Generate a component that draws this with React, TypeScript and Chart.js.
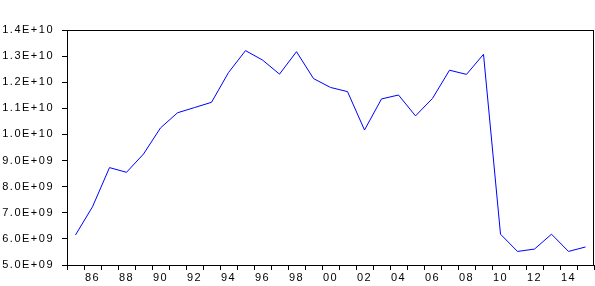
import React, { useEffect, useRef } from "react";
import { Chart, registerables } from "chart.js";

Chart.register(...registerables);

const years: number[] = [
  1985, 1986, 1987, 1988, 1989, 1990, 1991, 1992, 1993, 1994, 1995, 1996,
  1997, 1998, 1999, 2000, 2001, 2002, 2003, 2004, 2005, 2006, 2007, 2008,
  2009, 2010, 2011, 2012, 2013, 2014, 2015,
];

// values in units of 1E+09
const valuesBillions: number[] = [
  6.15, 7.23, 8.73, 8.55, 9.25, 10.25, 10.83, 11.03, 11.23, 12.37, 13.21, 12.85,
  12.31, 13.17, 12.14, 11.8, 11.64, 10.17, 11.36, 11.51, 10.71, 11.38, 12.46, 12.3,
  13.07, 6.18, 5.52, 5.61, 6.18, 5.52, 5.69,
];

const yMin = 5.0e9;
const yMax = 1.4e10;
const yStep = 1.0e9;

function fmtE(v: number): string {
  const s = v.toExponential(1).toUpperCase(); // e.g. 9.0E+9
  const m = s.match(/^(-?[\d.]+)E([+-])(\d+)$/);
  if (!m) return s;
  const exp = m[3].length < 2 ? "0" + m[3] : m[3];
  return `${m[1]}E${m[2]}${exp}`;
}

const framePlugin = {
  id: "frame",
  beforeDraw(chart: any) {
    const ctx = chart.ctx;
    try {
      ctx.letterSpacing = "1.5px";
    } catch (e) {}
    ctx.save();
    ctx.fillStyle = "#ffffff";
    ctx.fillRect(0, 0, chart.width, chart.height);
    ctx.restore();
  },
  afterDraw(chart: any) {
    const { left, top, right, bottom } = chart.chartArea;
    const ctx = chart.ctx;
    ctx.save();
    ctx.strokeStyle = "#000000";
    ctx.lineWidth = 1;
    ctx.strokeRect(Math.round(left) + 0.5, Math.round(top) + 0.5, Math.round(right - left) - 1, Math.round(bottom - top));
    ctx.restore();
  },
};

export default function App() {
  const ref = useRef<HTMLCanvasElement | null>(null);

  useEffect(() => {
    if (!ref.current) return;
    const font = { family: "'Liberation Sans', Arial, sans-serif", size: 11 };
    const chart = new Chart(ref.current, {
      type: "line",
      data: {
        labels: years.map(String),
        datasets: [
          {
            data: valuesBillions.map((v) => v * 1e9),
            borderColor: "#0000ff",
            borderWidth: 1,
            pointRadius: 0,
            tension: 0,
            fill: false,
          },
        ],
      },
      options: {
        animation: false,
        responsive: false,
        events: [],
        layout: { padding: { top: 30, right: 1, left: 0, bottom: 0 } },
        plugins: { legend: { display: false }, tooltip: { enabled: false } },
        scales: {
          x: {
            type: "category",
            offset: true,
            grid: {
              offset: true,
              drawOnChartArea: false,
              drawTicks: true,
              tickLength: 5,
              color: "#000000",
            },
            border: { display: false },
            ticks: {
              autoSkip: false,
              maxRotation: 0,
              minRotation: 0,
              color: "#000000",
              font,
              padding: 1,
              callback: (_v: any, i: number) => {
                const y = years[i];
                return y % 2 === 0 ? String(y).slice(2) : "";
              },
            },
            afterFit: (scale: any) => {
              scale.height = 21;
            },
          },
          y: {
            min: yMin,
            max: yMax,
            grid: {
              drawOnChartArea: false,
              drawTicks: true,
              tickLength: 5,
              color: "#000000",
            },
            border: { display: false },
            ticks: {
              stepSize: yStep,
              color: "#000000",
              font,
              padding: 8,
              callback: (v: any) => fmtE(Number(v)),
            },
            afterFit: (scale: any) => {
              scale.width = 67;
            },
          },
        },
      },
      plugins: [framePlugin],
    });
    return () => chart.destroy();
  }, []);

  return (
    <div style={{ position: "absolute", left: 0, top: 0, width: 595, height: 286 }}>
      <canvas ref={ref} width={595} height={286} style={{ display: "block" }} />
    </div>
  );
}
